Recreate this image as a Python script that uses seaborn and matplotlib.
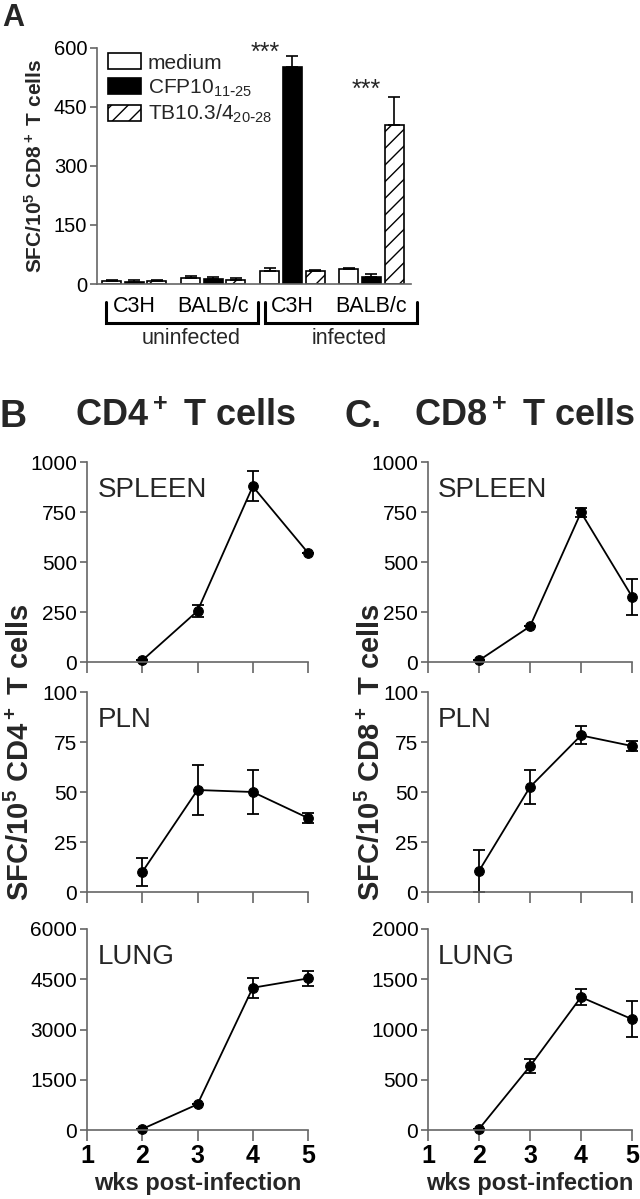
import numpy as np
import pandas as pd
import seaborn as sns
import matplotlib.pyplot as plt
from matplotlib.patches import Patch
from matplotlib.ticker import StrMethodFormatter

# ---------------- data ----------------
# panel A: SFC / 1e5 CD8+ T cells
groups = ['uninf C3H', 'uninf BALB/c', 'inf C3H', 'inf BALB/c']
group_ticks = ['C3H', 'BALB/c', 'C3H', 'BALB/c']
stims = ['medium', 'CFP10', 'TB10.3/4']
medium_mean = [7, 15, 32, 38]
medium_err = [2, 6, 9, 3]
cfp_mean = [5, 13, 552, 19]
cfp_err = [5, 5, 27, 6]
tb_mean = [7, 11, 32, 404]
tb_err = [2, 5, 4, 72]

# panels B/C: time course
weeks = [2, 3, 4, 5]
cd4_spleen = [8, 255, 878, 546]
cd4_spleen_err = [0, 28, 75, 0]
cd4_pln = [10, 51, 50, 37]
cd4_pln_err = [7, 12.5, 11, 2.6]
cd4_lung = [30, 767, 4246, 4525]
cd4_lung_err = [0, 0, 300, 220]

cd8_spleen = [8, 178, 748, 327]
cd8_spleen_err = [0, 0, 22, 90]
cd8_pln = [10.5, 52.5, 78.3, 73]
cd8_pln_err = [10.5, 8.7, 4.5, 2.5]
cd8_lung = [10, 635, 1322, 1103]
cd8_lung_err = [0, 70, 80, 180]

# ---------------- style ----------------
sns.set_style('ticks')
plt.rcParams['font.family'] = ['Liberation Sans', 'DejaVu Sans']
plt.rcParams['mathtext.default'] = 'regular'
plt.rcParams['hatch.linewidth'] = 1.0
spine_col = '#666666'

W, H = 640, 1199
fig = plt.figure(figsize=(W / 100, H / 100), dpi=100)


def box(x0, y0, x1, y1):
    # pixel box -> figure fraction rect
    return [x0 / W, 1 - y1 / H, (x1 - x0) / W, (y1 - y0) / H]


def style_axis(ax):
    sns.despine(ax=ax)
    for s in ['left', 'bottom']:
        ax.spines[s].set_color(spine_col)
        ax.spines[s].set_linewidth(1.2)
    ax.tick_params(colors=spine_col, labelcolor='black', width=1.2)


# ---------------- panel A ----------------
axA = fig.add_axes(box(97, 48, 411, 284))
dfA = pd.DataFrame({
    'group': groups * 3,
    'stim': [s for s in stims for _ in groups],
    'value': medium_mean + cfp_mean + tb_mean,
})
sns.barplot(data=dfA, x='group', y='value', hue='stim', order=groups,
            hue_order=stims, palette={'medium': 'white', 'CFP10': 'black', 'TB10.3/4': 'white'},
            edgecolor='black', linewidth=1.2, width=0.86, gap=0.16,
            errorbar=None, legend=False, ax=axA)
for cont, errs in zip(axA.containers, [medium_err, cfp_err, tb_err]):
    xs = [b.get_x() + b.get_width() / 2 for b in cont]
    hs = [b.get_height() for b in cont]
    axA.errorbar(xs, hs, yerr=[[0] * len(errs), errs], fmt='none', ecolor='black',
                 elinewidth=1.2, capsize=4, capthick=1.2, zorder=1)
for b in axA.containers[2]:
    b.set_hatch('//')

axA.set_xlim(-0.47, 3.5)
axA.set_ylim(0, 600)
axA.set_yticks([0, 150, 300, 450, 600])
axA.set_xticks(range(4))
axA.set_xticklabels(group_ticks, fontsize=15.5)
axA.tick_params(axis='x', length=0, pad=9)
axA.tick_params(axis='y', labelsize=14.5, length=5, pad=2)
axA.set_xlabel('')
axA.set_ylabel('SFC/10$^5$ CD8$^+$ T cells', fontsize=15, fontweight='bold', labelpad=6)
style_axis(axA)

axA.text(1.66, 588, '***', fontsize=18, ha='center', va='center')
axA.text(2.94, 494, '***', fontsize=18, ha='center', va='center')

handles = [Patch(facecolor='white', edgecolor='black', lw=1.2),
           Patch(facecolor='black', edgecolor='black', lw=1.2),
           Patch(facecolor='white', edgecolor='black', lw=1.2, hatch='//')]
labels = ['medium', 'CFP10$_{11\\text{-}25}$', 'TB10.3/4$_{20\\text{-}28}$']
axA.legend(handles, labels, loc='upper left', bbox_to_anchor=(-0.005, 1.03), frameon=False,
           fontsize=15, handlelength=1.6, handleheight=0.8, handletextpad=0.3,
           labelspacing=0.22, borderaxespad=0.2)

# group brackets
tr = axA.get_xaxis_transform()
for x0, x1 in [(-0.35, 1.56), (1.65, 3.57)]:
    axA.plot([x0, x0, x1, x1], [-0.076, -0.165, -0.165, -0.076], color='black', lw=2.2,
             transform=tr, clip_on=False, solid_joinstyle='miter')
axA.text(0.72, -0.23, 'uninfected', transform=tr, ha='center', va='center', fontsize=15.5)
axA.text(2.72, -0.23, 'infected', transform=tr, ha='center', va='center', fontsize=15.5)

fig.text(2 / W, 1 - 3 / H, 'A', fontsize=22, fontweight='bold', va='top', ha='left')

# ---------------- panels B/C ----------------
rows = [(462, 662), (692, 892), (929, 1130)]
cols = [(87, 308), (428, 632)]
panels = [
    [(cd4_spleen, cd4_spleen_err, 1000, 'SPLEEN'), (cd4_pln, cd4_pln_err, 100, 'PLN'),
     (cd4_lung, cd4_lung_err, 6000, 'LUNG')],
    [(cd8_spleen, cd8_spleen_err, 1000, 'SPLEEN'), (cd8_pln, cd8_pln_err, 100, 'PLN'),
     (cd8_lung, cd8_lung_err, 2000, 'LUNG')],
]

for (cx0, cx1), col_panels in zip(cols, panels):
    for i, ((ry0, ry1), (vals, errs, ymax, name)) in enumerate(zip(rows, col_panels)):
        ax = fig.add_axes(box(cx0, ry0, cx1, ry1))
        d = pd.DataFrame({'wk': weeks, 'sfc': vals})
        sns.lineplot(data=d, x='wk', y='sfc', ax=ax, color='black', marker='o',
                     markersize=7, markeredgecolor='black', linewidth=1.3)
        ax.errorbar(weeks, vals, yerr=errs, fmt='none', ecolor='black',
                    elinewidth=1.3, capsize=4, capthick=1.3)
        for art in ax.lines + ax.collections:
            art.set_clip_on(False)
        ax.set_xlim(1, 5)
        ax.set_ylim(0, ymax)
        ax.set_yticks(np.linspace(0, ymax, 5))
        ax.yaxis.set_major_formatter(StrMethodFormatter('{x:.0f}'))
        ax.set_xticks([1, 2, 3, 4, 5])
        ax.tick_params(axis='y', labelsize=15, length=5, pad=2)
        ax.tick_params(axis='x', length=8, labelsize=18, pad=2)
        for t in ax.get_xticklabels():
            t.set_fontweight('bold')
        if i < 2:
            ax.tick_params(axis='x', labelbottom=False)
            ax.set_xlabel('')
        else:
            ax.set_xlabel('wks post-infection', fontsize=17, fontweight='bold', labelpad=3)
        ax.set_ylabel('')
        ax.text(0.05, 0.86, name, transform=ax.transAxes, fontsize=20, va='center', ha='left')
        style_axis(ax)

fig.text(0 / W, 1 - 417 / H, 'B', fontsize=27, fontweight='bold', va='center', ha='left')
fig.text(186 / W, 1 - 417 / H, 'CD4$^+$ T cells', fontsize=26, fontweight='bold', va='center', ha='center')
fig.text(345 / W, 1 - 417 / H, 'C.', fontsize=27, fontweight='bold', va='center', ha='left')
fig.text(525 / W, 1 - 417 / H, 'CD8$^+$ T cells', fontsize=26, fontweight='bold', va='center', ha='center')

fig.text(20 / W, 1 - 752 / H, 'SFC/10$^5$ CD4$^+$ T cells', rotation=90, fontsize=21,
         fontweight='bold', va='center', ha='center')
fig.text(371 / W, 1 - 752 / H, 'SFC/10$^5$ CD8$^+$ T cells', rotation=90, fontsize=21,
         fontweight='bold', va='center', ha='center')

fig.savefig('out.png', dpi=100)
